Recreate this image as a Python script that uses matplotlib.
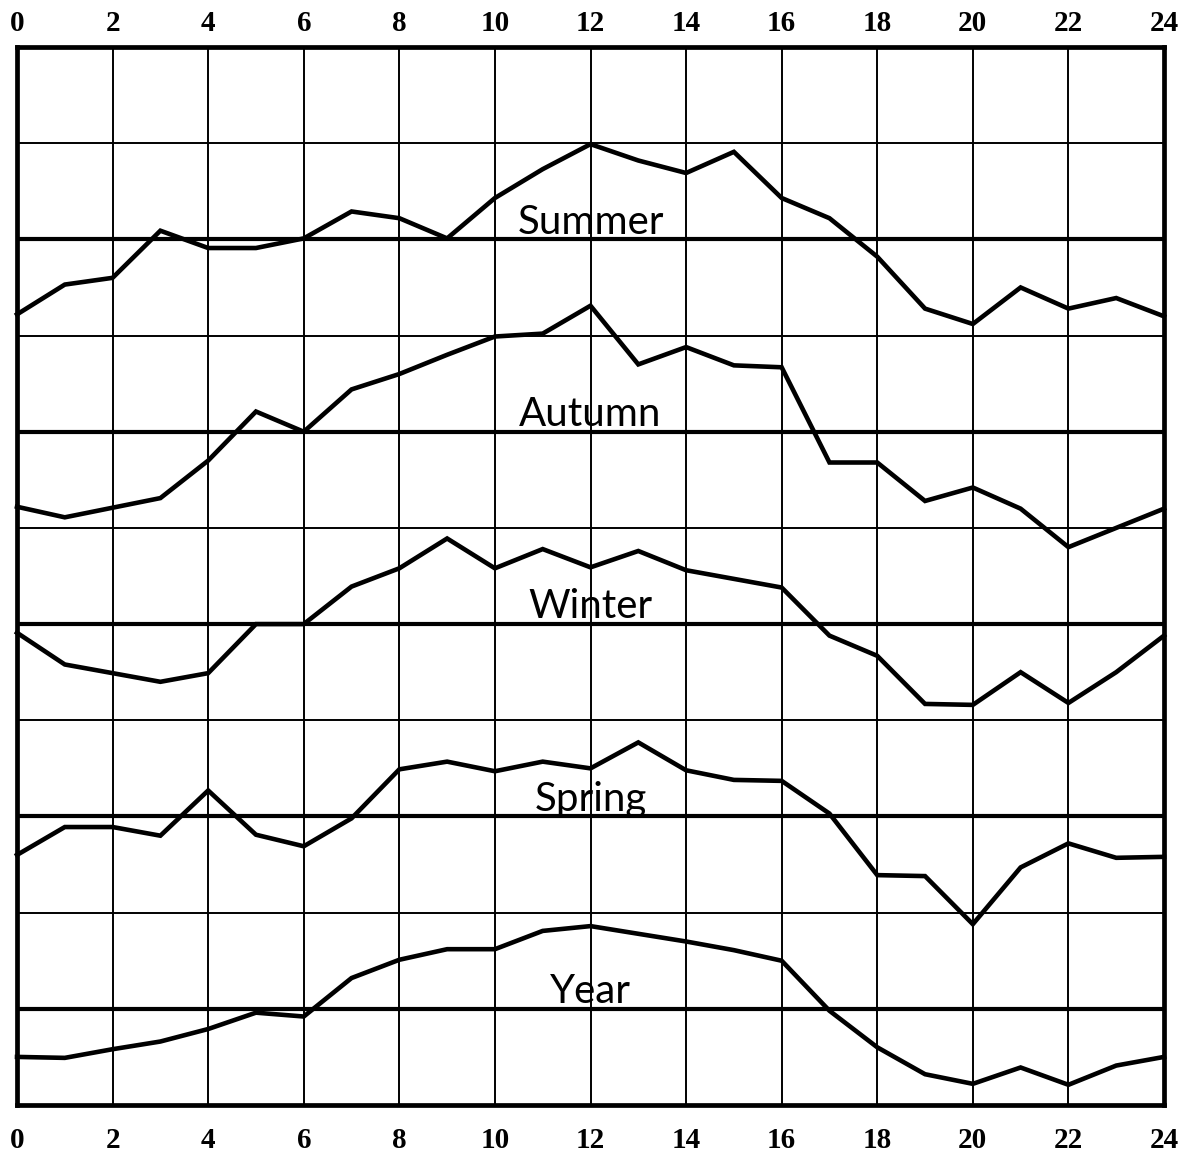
import matplotlib
matplotlib.use("Agg")
import matplotlib.pyplot as plt

# Hours of the day
hours = list(range(25))
tick_hours = list(range(0, 25, 2))
tick_labels = [str(h) for h in tick_hours]

# Deviations from each series' own baseline (in grid units)
summer = [-0.78, -0.47, -0.40, 0.09, -0.09, -0.09, 0.01, 0.29, 0.22, 0.01, 0.43, 0.73, 0.99,
          0.82, 0.69, 0.91, 0.43, 0.22, -0.18, -0.72, -0.88, -0.50, -0.72, -0.61, -0.80]
autumn = [-0.78, -0.89, -0.79, -0.69, -0.30, 0.21, 0.0, 0.44, 0.60, 0.80, 0.99, 1.02, 1.31,
          0.70, 0.88, 0.69, 0.67, -0.32, -0.32, -0.72, -0.58, -0.80, -1.20, -1.00, -0.80]
winter = [-0.09, -0.42, -0.51, -0.60, -0.51, 0.0, 0.0, 0.39, 0.58, 0.89, 0.58, 0.78, 0.59,
          0.76, 0.56, 0.47, 0.38, -0.12, -0.33, -0.83, -0.84, -0.50, -0.82, -0.50, -0.12]
spring = [-0.40, -0.11, -0.11, -0.20, 0.27, -0.19, -0.31, -0.02, 0.49, 0.57, 0.47, 0.57, 0.50,
          0.77, 0.48, 0.38, 0.37, 0.03, -0.61, -0.62, -1.12, -0.53, -0.28, -0.43, -0.42]
year = [-0.50, -0.51, -0.42, -0.34, -0.21, -0.04, -0.08, 0.32, 0.51, 0.62, 0.62, 0.81, 0.86,
        0.78, 0.70, 0.61, 0.50, -0.02, -0.40, -0.68, -0.78, -0.61, -0.79, -0.59, -0.50]

series_names = ["Summer", "Autumn", "Winter", "Spring", "Year"]
series_values = [summer, autumn, winter, spring, year]
baselines = [9, 7, 5, 3, 1]

W, H = 1192, 1154
fig = plt.figure(figsize=(W / 100, H / 100), dpi=100)
fig.patch.set_facecolor("white")
ax = fig.add_axes([17 / W, 49 / H, 1147 / W, 1058 / H])
ax.set_xlim(0, 24)
ax.set_ylim(0, 11)

# grid
for h in tick_hours[1:-1]:
    ax.axvline(h, color="black", lw=1.4, zorder=1)
for yv in range(1, 11):
    thick = yv in baselines
    ax.axhline(yv, color="black", lw=3.0 if thick else 1.4, zorder=1)

# series
for name, vals, base in zip(series_names, series_values, baselines):
    ax.plot(hours, [base + v for v in vals], color="black", lw=3.3,
            solid_joinstyle="miter", zorder=3, clip_on=False)
    ax.text(12, base + 0.06, name, ha="center", va="baseline",
            fontsize=29, family="Lato", color="black", zorder=4)

for sp in ax.spines.values():
    sp.set_linewidth(3.4)
    sp.set_color("black")

ax.set_yticks([])
ax.set_xticks(tick_hours)
ax.set_xticklabels(tick_labels)
ax.tick_params(axis="x", length=0, pad=16, labelsize=21)
for lab in ax.get_xticklabels():
    lab.set_family("Liberation Serif")
    lab.set_fontweight("bold")

top = ax.secondary_xaxis("top")
top.set_xticks(tick_hours)
top.set_xticklabels(tick_labels)
top.tick_params(axis="x", length=0, pad=7, labelsize=21)
top.spines["top"].set_visible(False)
for lab in top.get_xticklabels():
    lab.set_family("Liberation Serif")
    lab.set_fontweight("bold")

fig.savefig("out.png", dpi=100, facecolor="white")
